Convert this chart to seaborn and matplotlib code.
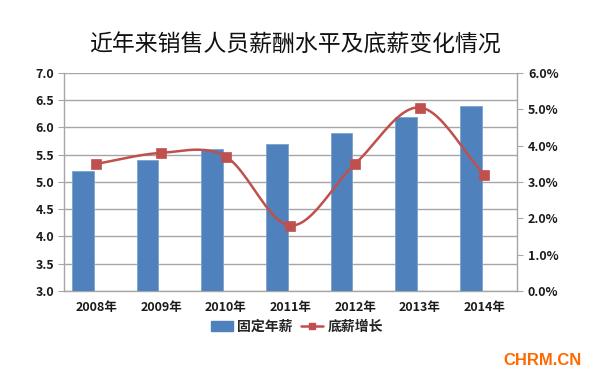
import numpy as np
import pandas as pd
import matplotlib
matplotlib.use("Agg")
import matplotlib.pyplot as plt
import seaborn as sns
from matplotlib.patches import Patch
from matplotlib.lines import Line2D
from matplotlib.ticker import FuncFormatter, MultipleLocator

# --- DATA ---
years = ['2008年', '2009年', '2010年', '2011年', '2012年', '2013年', '2014年']
fixed_salary = [5.2, 5.4, 5.6, 5.7, 5.9, 6.2, 6.4]
base_growth = [0.035, 0.038, 0.037, 0.018, 0.035, 0.0505, 0.032]
bar_label = '固定年薪'
line_label = '底薪增长'

BLUE = '#4F81BD'
RED = '#C0504D'
GRID = '#A6A6A6'
CJK = ['Noto Sans CJK SC', 'DejaVu Sans']

sns.set_theme(style='white')
plt.rcParams['font.family'] = CJK


def catmull_rom(xs, ys, steps=24):
    """Smooth curve through the points (like Excel's smoothed line)."""
    p = np.column_stack([xs, ys]).astype(float)
    p = np.vstack([2 * p[0] - p[1], p, 2 * p[-1] - p[-2]])
    out = []
    for i in range(1, len(p) - 2):
        p0, p1, p2, p3 = p[i - 1], p[i], p[i + 1], p[i + 2]
        t = np.linspace(0, 1, steps, endpoint=False)[:, None]
        seg = 0.5 * ((2 * p1) + (-p0 + p2) * t
                     + (2 * p0 - 5 * p1 + 4 * p2 - p3) * t ** 2
                     + (-p0 + 3 * p1 - 3 * p2 + p3) * t ** 3)
        out.append(seg)
    out.append(p[-2][None, :])
    c = np.vstack(out)
    return c[:, 0], c[:, 1]


df = pd.DataFrame({'year': years, 'value': fixed_salary, 'series': bar_label})

fig = plt.figure(figsize=(5.94, 3.79), dpi=100)
ax = fig.add_axes([0.1077, 0.2322, 0.7623, 0.5752])

sns.barplot(data=df, x='year', y='value', hue='series',
            hue_order=[bar_label, '_gap'], palette={bar_label: BLUE, '_gap': 'white'},
            dodge=True, width=0.84, gap=0.2, saturation=1, legend=False, ax=ax,
            edgecolor='#7EA3D0', linewidth=0.6, zorder=3)

ax.set_ylim(3.0, 7.0)
ax.set_xlim(-0.5, len(years) - 0.5)
ax.yaxis.set_major_locator(MultipleLocator(0.5))
ax.yaxis.set_major_formatter(FuncFormatter(lambda v, _: f'{v:.1f}'))
ax.grid(axis='y', color=GRID, linewidth=1.0, zorder=0)
ax.set_axisbelow(True)
ax.set_xlabel('')
ax.set_ylabel('')
ax.tick_params(axis='y', which='major', direction='out', length=4, width=0.8,
               color=GRID, left=True, pad=3, labelsize=9)
ax.tick_params(axis='x', length=0, pad=7, labelsize=9)
for lab in ax.get_yticklabels() + ax.get_xticklabels():
    lab.set_fontweight('bold')
    lab.set_color('#1a1a1a')
for side in ['left', 'bottom', 'right']:
    ax.spines[side].set_color(GRID)
    ax.spines[side].set_linewidth(1.0)
ax.spines['top'].set_visible(False)

# secondary axis for growth
ax2 = ax.twinx()
xs = np.arange(len(years))
cx, cy = catmull_rom(xs, base_growth)
ax2.plot(cx, cy, color=RED, linewidth=1.8, zorder=4)
sns.scatterplot(x=xs, y=base_growth, marker='s', s=42, color=RED,
                edgecolor=RED, linewidth=0.5, zorder=5, ax=ax2, legend=False)
ax2.set_ylim(0, 0.06)
ax2.yaxis.set_major_locator(MultipleLocator(0.01))
ax2.yaxis.set_major_formatter(FuncFormatter(lambda v, _: f'{v * 100:.1f}%'))
ax2.tick_params(axis='y', direction='out', length=4, width=0.8, color=GRID,
                right=True, pad=4, labelsize=9)
for lab in ax2.get_yticklabels():
    lab.set_fontweight('bold')
    lab.set_color('#1a1a1a')
for side in ['left', 'bottom', 'right', 'top']:
    ax2.spines[side].set_visible(False)
ax2.set_ylabel('')

fig.text(0.497, 0.88, '近年来销售人员薪酬水平及底薪变化情况', ha='center', va='center',
         fontsize=16.5, family=CJK, color='#111111')

handles = [Patch(facecolor=BLUE, edgecolor=BLUE),
           Line2D([0], [0], color=RED, lw=1.8, marker='s', markersize=5)]
fig.legend(handles, [bar_label, line_label], loc='center', bbox_to_anchor=(0.5, 0.138),
           ncol=2, frameon=False, handlelength=1.6, handletextpad=0.3, columnspacing=0.6,
           prop={'family': CJK, 'weight': 'bold', 'size': 10})

fig.text(0.913, 0.048, 'CHRM.CN', ha='center', va='center', fontsize=12,
         fontweight='bold', color='#FF6A00', family=['Liberation Sans', 'DejaVu Sans'])

fig.savefig('out.png', dpi=100, facecolor='white')
